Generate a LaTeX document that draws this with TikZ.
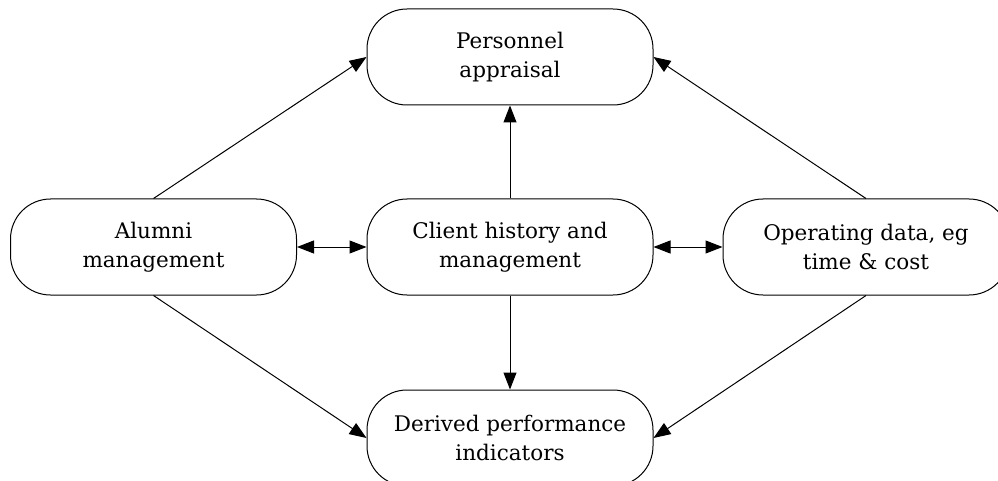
\documentclass[tikz,border=0pt]{standalone}
\usepackage{fontspec}
\setmainfont{DejaVu Serif}
\usepackage{tikz}
\usetikzlibrary{arrows.meta, positioning}

\begin{document}
\begin{tikzpicture}[
    x=1pt, y=-1pt,
    pill/.style={draw, line width=1pt, rounded corners=40pt, minimum width=286pt,
                 minimum height=96pt, align=center, font=\fontsize{21.5}{29}\selectfont},
    arrow/.style={-{Triangle[length=17pt, width=13pt]}, line width=1pt},
    both/.style={{Triangle[length=17pt, width=13pt]}-{Triangle[length=17pt, width=13pt]}, line width=1pt}
  ]
    \useasboundingbox (0,0) rectangle (998,481);

    \node[pill] (appraisal) at (510,57)    {Personnel\\appraisal};
    \node[pill] (alumni)    at (153.5,247) {Alumni\\management};
    \node[pill] (client)    at (510,247)   {Client history and\\management};
    \node[pill] (operating) at (866,247)   {Operating data, eg\\time \& cost};
    \node[pill] (derived)   at (510,438)   {Derived performance\\indicators};

    % outer spokes into top and bottom boxes
    \foreach \a/\b/\c in {alumni/north/west, operating/north/east}
      \draw[arrow] (\a.\b) -- (appraisal.\c);
    \foreach \a/\b/\c in {alumni/south/west, operating/south/east}
      \draw[arrow] (\a.\b) -- (derived.\c);

    \draw[arrow] (client) -- (appraisal);
    \draw[arrow] (client) -- (derived);

    % two-way links in the middle row
    \draw[both] (alumni) -- (client);
    \draw[both] (client) -- (operating);
\end{tikzpicture}
\end{document}
